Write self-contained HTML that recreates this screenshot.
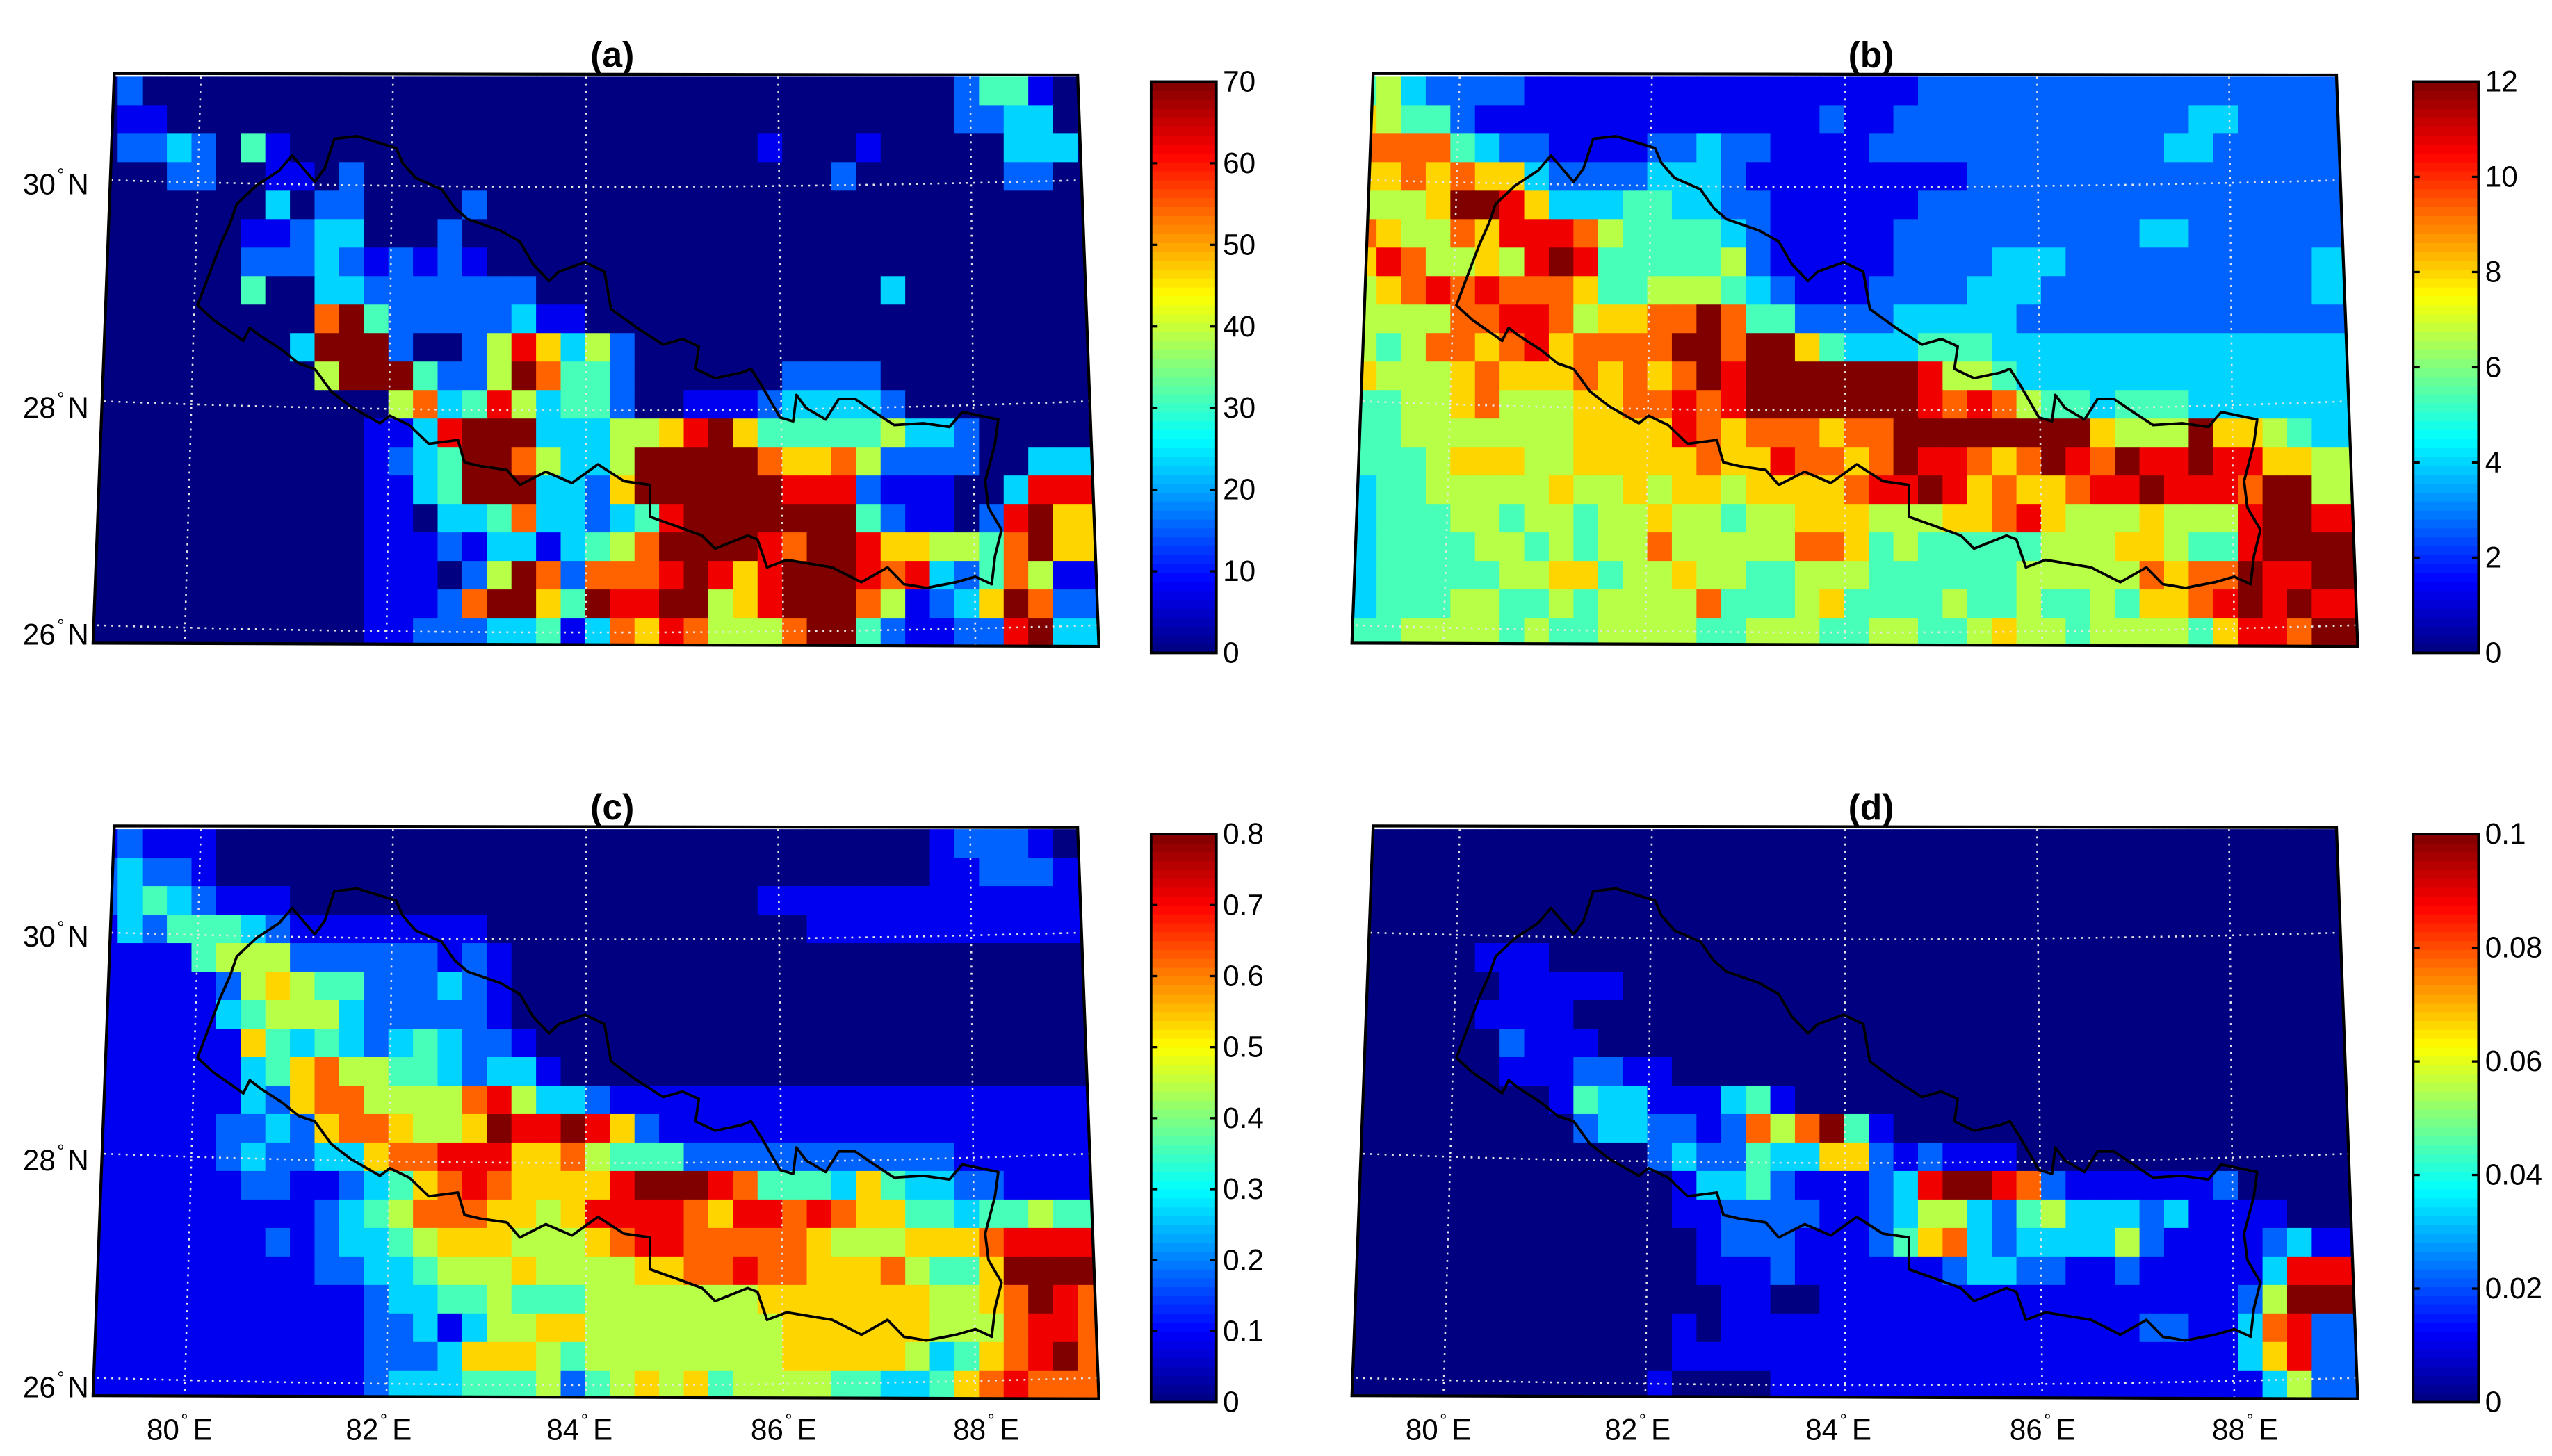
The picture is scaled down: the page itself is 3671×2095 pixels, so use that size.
<!DOCTYPE html>
<html><head><meta charset="utf-8"><title>Nepal maps (a)-(d)</title>
<style>
html,body{margin:0;padding:0;background:#fff;}
svg{display:block;}
text{font-family:"Liberation Sans",sans-serif;fill:#000;}
</style></head>
<body>
<svg id="fig" xmlns="http://www.w3.org/2000/svg" width="3671" height="2095" viewBox="0 0 1563 892" preserveAspectRatio="none">
<rect x="0" y="0" width="1563" height="892" fill="#fff"/>
</svg>
<script>
// ---- data: rows of colour levels (0..9 => colormap min..max), 41 columns x 20 rows ----
const panelA = [
"0200000000 0000000000 0000000000 0000024410 0",
"0110000000 0000000000 0000000000 0000022330 0",
"0223204100 0000000000 0000000100 0100000333 0",
"0002200110 2000000000 0000000000 2000000220 0",
"0000000302 2000020000 0000000000 0000000000 0",
"0000001123 3000200000 0000000000 0000000000 0",
"0000002223 2121210000 0000000000 0000000000 0",
"0000004003 3222222200 0000000000 0030000000 0",
"0000000007 9422222311 0000000000 0000000000 0",
"0000000039 9920025863 5200000000 0000000000 0",
"0000000005 9994225974 4200000022 2200000000 0",
"0000000000 0057348534 4200111233 3320000000 0",
"0000000000 0113899933 3556896444 4453320000 0",
"0000000000 0123499753 3599999766 7522220033 3",
"0000000000 0113499933 2699999988 8211100388 8",
"0000000000 0110334733 2348999999 9421102896 6",
"0000000000 0111213313 4579999879 9866554796 6",
"0000000000 0111025972 7778986899 9878324751 1",
"0000000000 0111279964 9889956899 9751236972 2",
"0000000000 0112223341 3768755579 9421122893 3"
];
const panelB = [
"4532222111 1111111111 1112222222 2222222222 2",
"6544211111 1111111112 1122222222 2222332222 2",
"7777432211 1122322111 1222222222 2223322222 2",
"6676766322 2233321111 1111122222 2222222222 2",
"5556998633 3443322111 1112222222 2222222222 2",
"7655768887 5444432111 1122222222 2233222222 2",
"6875565898 4444452111 1122223332 2222222223 3",
"5678787776 4455543211 1222233322 2222222223 3",
"5555778875 6677974422 2233333222 2222222222 2",
"5457767867 7779979964 3334443333 3333333333 3",
"6555676667 6767989999 9998554333 3333333333 3",
"4455675556 6778789999 9998787544 3444333333 3",
"4455555556 6668767776 7799999999 6555966543 3",
"4445666556 6666766877 6798876798 7988988665 5",
"3445555565 5656656666 7889867667 8898887995 5",
"3444554554 5565545566 6555667865 5565558998 8",
"3444455454 5575555577 6454444455 5665448999 9",
"3444445566 4556554455 5444444555 5576779889 9",
"3444554454 5555744456 4444544544 5466789898 8",
"4455554544 5555445554 4554456554 5555468879 9"
];
const panelC = [
"1211100000 0000000000 0000000000 0000122210 0",
"2322100000 0000000000 0000000000 0000112221 1",
"2343211100 0000000000 0000000111 1111111111 1",
"1324443211 1111110000 0000000001 1111111111 1",
"1111455522 2222121000 0000000000 0000000000 0",
"1111125654 4222321000 0000000000 0000000000 0",
"1111134555 3222221000 0000000000 0000000000 0",
"1111116434 3234322100 0000000000 0000000000 0",
"1111113467 5544323310 0000000000 0000000000 0",
"1111113267 7555578533 2111111111 1111111111 1",
"1111122326 7765569889 8621111111 1111111111 1",
"1111123223 3677888667 5444222222 2222211111 1",
"1111112211 2346787666 6899987444 3643322111 1",
"1111111112 3457776656 8888768878 7664434454 4",
"1111111212 3345666555 6788777776 5556667888 8",
"1111111112 2334555655 5566778776 6675446999 9",
"1111111111 1233445444 5555555666 6666556798 7",
"1111111111 1223135566 5555555566 6666555788 7",
"1111111111 1222366654 5555555566 6665346789 7",
"1111111111 1233344452 4565645555 4433467877 7"
];
const panelD = [
"0000000000 0000000000 0000000000 0000000000 0",
"0000000000 0000000000 0000000000 0000000000 0",
"0000000000 0000000000 0000000000 0000000000 0",
"0000000000 0000000000 0000000000 0000000000 0",
"0000011100 0000000000 0000000000 0000000000 0",
"0000001111 1000000000 0000000000 0000000000 0",
"0000011110 0000000000 0000000000 0000000000 0",
"0000002111 0000000000 0000000000 0000000000 0",
"0000001112 2110000000 0000000000 0000000000 0",
"0000000014 3311134100 0000000000 0000000000 0",
"0000000002 3322127579 4100000000 0000000000 0",
"0000000000 0023224336 6212111000 0000000000 0",
"0000000000 0001334211 1238998721 1111120000 0",
"0000000000 0001122221 1235532453 3323111100 0",
"0000000000 0000122211 1246732333 3521111231 1",
"0000000000 0000111211 1111233221 1211111388 8",
"0000000000 0000011001 1111111111 1111112599 9",
"0000000000 0001011111 1111111111 1122113782 2",
"0000000000 0001111111 1111111111 1111113682 2",
"0000000000 0010000111 1111111111 1111111352 2"
];
const ticksA = ["0","10","20","30","40","50","60","70"];
const ticksB = ["0","2","4","6","8","10","12"];
const ticksC = ["0","0.1","0.2","0.3","0.4","0.5","0.6","0.7","0.8"];
const ticksD = ["0","0.02","0.04","0.06","0.08","0.1"];
const maxA = 70, maxB = 12, maxC = 0.8, maxD = 0.1;
const latLabels = ["30","28","26"];
const lonLabels = ["80","82","84","86","88"];
const titles = ["(a)","(b)","(c)","(d)"];

// ---- rendering ----
const NS = "http://www.w3.org/2000/svg";
const svg = document.getElementById('fig');
function el(tag, attrs, parent){
  const e = document.createElementNS(NS, tag);
  for (const k in attrs) e.setAttribute(k, attrs[k]);
  (parent||svg).appendChild(e);
  return e;
}
function clamp(v){return Math.max(0, Math.min(1, v));}
function jet(t){
  const r = clamp(1.5 - Math.abs(4*t - 3)), g = clamp(1.5 - Math.abs(4*t - 2)), b = clamp(1.5 - Math.abs(4*t - 1));
  return 'rgb(' + Math.round(r*255) + ',' + Math.round(g*255) + ',' + Math.round(b*255) + ')';
}
const NC = 41, NR = 20;
// base geometry (panel a); other panels offset
const GX0 = 57, GX1 = 675, GY0 = 47, GY1 = 396;
const clipBase = [[70,45],[660,46],[673,396],[57,394]];
const border = [[121,187],[127,171],[135,150],[141,136.6],[145,125],[157,113.7],[171,104.5],[178.9,95.3],[186.8,104.5],[192.8,111.4],[198.8,103.3],[204.8,85],[218.7,83.4],[242.6,90.7],[246.6,99.9],[254.6,109],[270.5,116],[278.5,127.4],[286.5,134.3],[306.4,141.2],[318.4,148],[326.4,161.8],[336.3,172.1],[342.3,166.4],[358.2,160.7],[370.2,166.4],[374.2,189.3],[390.1,200.8],[406.1,211.1],[418,207.7],[428,212.2],[426,226],[438,231.7],[454,228.3],[460,226],[465.9,235.2],[477.8,255.8],[485.8,258.1],[487.8,242],[493.8,250],[505.7,257],[513.7,244.4],[523.7,244.4],[533.6,251.2],[547.6,260.4],[565.5,259.3],[581.5,261.6],[589.4,252.4],[611.4,257],[609.4,271.9],[603.4,294.8],[605.4,310.9],[613.4,324.6],[609.4,340.7],[607.4,357.9],[597.4,353.3],[585.5,356.7],[567.5,360.2],[553.6,357.9],[543.6,347.6],[527.6,356.7],[509.7,347.6],[481.8,343],[469.8,347.6],[463.9,330.4],[457.9,328.1],[438,336.1],[430,328.1],[414.1,322.3],[398.1,316.6],[398.1,297.1],[382.2,294.8],[366.2,284.5],[350.3,295.9],[334.3,289],[318.4,297.1],[310.4,287.9],[294.5,285.6],[284.5,283.3],[280.5,269.6],[262.6,271.9],[250.6,260.4],[238.7,254.7],[232.7,259.3],[214.7,249],[202.8,239.8],[192.8,226],[182.9,222.6],[172.9,214.5],[158.9,205.4],[153,200.8],[149,208.8],[141,203.1],[131,196.2]];
const vLines = [[123,113],[240.7,236.7],[359,359],[476.6,479.8],[594.2,597.4]];
const hLines = [[110,114.5],[245.5,251.5],[383,387.5]];

const defs = el('defs', {});
const panels = [
  {key:'a', data:panelA, max:maxA, ticks:ticksA, dx:0, dy:0},
  {key:'b', data:panelB, max:maxB, ticks:ticksB, dx:771, dy:0},
  {key:'c', data:panelC, max:maxC, ticks:ticksC, dx:0, dy:461},
  {key:'d', data:panelD, max:maxD, ticks:ticksD, dx:771, dy:461}
];

panels.forEach((p, pi) => {
  const g = el('g', {});
  
  
  const cp = el('clipPath', {id:'clip-' + p.key}, defs);
  el('polygon', {points: clipBase.map(q => (q[0]+p.dx) + ',' + (q[1]+p.dy)).join(' ')}, cp);

  // heatmap cells
  const cells = el('g', {'clip-path':'url(#clip-' + p.key + ')'}, g);
  
  
  const cw = (GX1 - GX0) / NC, ch = (GY1 - GY0) / NR;
  p.data.forEach((rowStr, r) => {
    let s = rowStr.replace(/\s+/g, '');
    while (s.length < NC) s += s[s.length-1];
    s = s.slice(0, NC);
    for (let c = 0; c < NC; c++) {
      const v = parseInt(s[c], 10);
      const rc = el('rect', {x:(GX0 + p.dx + c*cw).toFixed(2), y:(GY0 + p.dy + r*ch).toFixed(2), width:(cw+0.4).toFixed(2), height:(ch+0.4).toFixed(2), fill:jet(v/9)}, cells);
      
      
    }
  });

  // graticule
  const grat = el('g', {stroke:'#e6e6e6', 'stroke-width':'1.1', 'stroke-dasharray':'1.2 3.2', fill:'none', 'clip-path':'url(#clip-' + p.key + ')'}, g);
  
  
  vLines.forEach(v => el('line', {x1:v[0]+p.dx, y1:GY0+p.dy, x2:v[1]+p.dx, y2:GY1+p.dy}, grat));
  hLines.forEach(h => el('path', {d:'M' + (55+p.dx) + ',' + (h[0]+p.dy) + ' Q' + (365+p.dx) + ',' + (2*h[1]-h[0]+p.dy) + ' ' + (676+p.dx) + ',' + (h[0]+p.dy)}, grat));

  // country border
  const b = el('polygon', {points: border.map(q => (q[0]+p.dx).toFixed(1) + ',' + (q[1]+p.dy).toFixed(1)).join(' '), fill:'none', stroke:'#000', 'stroke-width':'1.6', 'stroke-linejoin':'round'}, g);
  
  

  // map frame
  const fr = el('polygon', {points: clipBase.map(q => (q[0]+p.dx) + ',' + (q[1]+p.dy)).join(' '), fill:'none', stroke:'#000', 'stroke-width':'1.8'}, g);
  
  

  // title
  const t = el('text', {x:375+p.dx, y:41+p.dy, 'font-size':'22', 'font-weight':'bold', 'text-anchor':'middle'}, g);
  t.textContent = titles[pi];
  
  

  // colorbar
  const cbx = 705 + p.dx + (p.dx ? 2 : 0), cby0 = 50 + p.dy, cby1 = 400 + p.dy - (p.dy ? 2 : 0), cbw = 40;
  const cb = el('g', {}, g);
  
  
  const steps = 64, sh = (cby1 - cby0) / steps;
  for (let i = 0; i < steps; i++) {
    el('rect', {x:cbx, y:(cby1 - (i+1)*sh).toFixed(2), width:cbw, height:(sh+0.3).toFixed(2), fill:jet((i+0.5)/steps)}, cb);
  }
  el('rect', {x:cbx, y:cby0, width:cbw, height:cby1-cby0, fill:'none', stroke:'#000', 'stroke-width':'1.6'}, cb);
  p.ticks.forEach(lbl => {
    const v = parseFloat(lbl);
    const y = cby1 - (v / p.max) * (cby1 - cby0);
    el('line', {x1:cbx, y1:y, x2:cbx+4, y2:y, stroke:'#000', 'stroke-width':'1.4'}, cb);
    el('line', {x1:cbx+cbw-4, y1:y, x2:cbx+cbw, y2:y, stroke:'#000', 'stroke-width':'1.4'}, cb);
    const tl = el('text', {x:cbx+cbw+4, y:(y+6).toFixed(1), 'font-size':'18'}, cb);
    tl.textContent = lbl;
    
    
  });

  // latitude labels on left panels
  if (p.dx === 0) {
    latLabels.forEach((lab, i) => {
      const y = [119, 256, 395][i] + p.dy;
      const tx = el('text', {x:14, y:y, 'font-size':'18'}, g);
      tx.textContent = lab;
      
      
      const deg = el('tspan', {dx:'1', dy:'-8', 'font-size':'11'}, tx);
      deg.textContent = '°';
      const nn = el('tspan', {dx:'2', dy:'8'}, tx);
      nn.textContent = 'N';
    });
  }
  // longitude labels on bottom panels
  if (p.dy > 0) {
    lonLabels.forEach((lab, i) => {
      const x = [110, 232, 355, 480, 604][i] + p.dx;
      const tx = el('text', {x:x, y:882, 'font-size':'18', 'text-anchor':'middle'}, g);
      tx.textContent = lab;
      
      
      const deg = el('tspan', {dx:'1', dy:'-8', 'font-size':'11'}, tx);
      deg.textContent = '°';
      const ee = el('tspan', {dx:'3', dy:'8'}, tx);
      ee.textContent = 'E';
    });
  }
});
</script>
</body></html>
